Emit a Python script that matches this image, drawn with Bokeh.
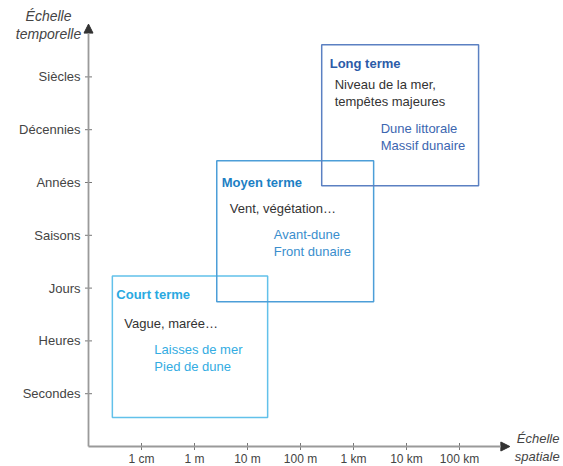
import math
from bokeh.plotting import figure
from bokeh.models import Range1d, Arrow, NormalHead, ColumnDataSource
from bokeh.core.properties import value
from bokeh.embed import file_html
from bokeh.resources import INLINE

# ---- data ----
x_labels = ["1 cm", "1 m", "10 m", "100 m", "1 km", "10 km", "100 km"]
y_labels = ["Secondes", "Heures", "Jours", "Saisons", "Années", "Décennies", "Siècles"]
x_ticks = list(range(len(x_labels)))
y_ticks = list(range(len(y_labels)))

box_names = ["Court terme", "Moyen terme", "Long terme"]
box_x0 = [-0.55, 1.42, 3.40]
box_x1 = [2.38, 4.38, 6.36]
box_y0 = [-0.45, 1.74, 3.94]
box_y1 = [2.23, 4.41, 6.61]
box_drivers = [["Vague, marée…"], ["Vent, végétation…"], ["Niveau de la mer,", "tempêtes majeures"]]
box_forms = [["Laisses de mer", "Pied de dune"], ["Avant-dune", "Front dunaire"], ["Dune littorale", "Massif dunaire"]]

axis_origin = (-1, -1)
x_axis_end = 6.95
y_axis_end = 7.0

# ---- style ----
FONT = "Liberation Sans"
TXT = "13px"
border_cols = ["#62c1ea", "#4c9ed8", "#5b80c2"]
title_cols = ["#2aa9e1", "#1c80c4", "#2c5ba8"]
form_cols = ["#33ace2", "#3a8ecd", "#3c66b0"]
title_off = [(4, 19), (5, 22), (8, 19)]
driver_off = [(12, 48), (13, 48), (13, 40)]
form_off = [(42, 74), (57, 74), (59, 84)]
line_gap = 17

W, H = 563, 466
SX, SY = 53.0, 52.8          # px per unit
ox_px, oy_px = 88, 446       # pixel position of the axis origin
xs = axis_origin[0] - ox_px / SX
xe = axis_origin[0] + (W - ox_px) / SX
ys = axis_origin[1] - (H - oy_px) / SY
ye = axis_origin[1] + oy_px / SY

p = figure(width=W, height=H, output_backend="svg", toolbar_location=None,
           x_range=Range1d(xs, xe), y_range=Range1d(ys, ye),
           min_border=0, x_axis_type=None, y_axis_type=None)
p.outline_line_color = None
p.grid.visible = False
p.background_fill_color = "white"
p.border_fill_color = "white"

ax0, ay0 = axis_origin

# axis arrows
p.add_layout(Arrow(end=NormalHead(size=9, fill_color="#333333", line_color="#333333"),
                   x_start=ax0, y_start=ay0, x_end=x_axis_end, y_end=ay0,
                   line_color="#9a9a9a", line_width=1.8))
p.add_layout(Arrow(end=NormalHead(size=9, fill_color="#333333", line_color="#333333"),
                   x_start=ax0, y_start=ay0, x_end=ax0, y_end=y_axis_end,
                   line_color="#9a9a9a", line_width=1.8))

# ticks
p.scatter(x=x_ticks, y=[ay0] * len(x_ticks), marker="dash", angle=math.pi / 2, size=7,
          line_color="#777777", line_width=1)
p.scatter(x=[ax0] * len(y_ticks), y=y_ticks, marker="dash", size=7,
          line_color="#777777", line_width=1)

# tick labels
p.text(x=x_ticks, y=[ay0] * len(x_ticks), text=x_labels, y_offset=12,
       text_font=value(FONT), text_font_size="12px", text_color="#444444",
       text_align="center", text_baseline="middle")
p.text(x=[ax0] * len(y_ticks), y=y_ticks, text=y_labels, x_offset=-8,
       text_font=value(FONT), text_font_size="13px", text_color="#444444",
       text_align="right", text_baseline="middle")

# axis titles
it = dict(text_font=value(FONT), text_font_style="italic",
          text_color="#444444", text_baseline="middle")
p.text(x=[ax0, ax0], y=[y_axis_end, y_axis_end], text=["Échelle", "temporelle"],
       x_offset=-40, y_offset=[-8, 10], text_align="center", text_font_size="14px", **it)
p.text(x=[x_axis_end, x_axis_end], y=[ay0, ay0], text=["Échelle", "spatiale"],
       x_offset=[7, 5], y_offset=[-8, 10], text_align="left", text_font_size="13px", **it)

# boxes
src = ColumnDataSource(dict(left=box_x0, right=box_x1, bottom=box_y0, top=box_y1, col=border_cols))
p.quad(left="left", right="right", bottom="bottom", top="top", source=src,
       fill_color=None, line_color="col", line_width=1.5)

# texts in boxes
for i in range(3):
    tx, ty = box_x0[i], box_y1[i]
    p.text(x=[tx], y=[ty], text=[box_names[i]], x_offset=title_off[i][0], y_offset=title_off[i][1],
           text_font=value(FONT), text_font_style="bold", text_font_size=TXT,
           text_color=title_cols[i], text_baseline="middle", text_align="left")
    for j, t in enumerate(box_drivers[i]):
        p.text(x=[tx], y=[ty], text=[t], x_offset=driver_off[i][0], y_offset=driver_off[i][1] + j * line_gap,
               text_font=value(FONT), text_font_size=TXT,
               text_color="#333333", text_baseline="middle", text_align="left")
    for j, t in enumerate(box_forms[i]):
        p.text(x=[tx], y=[ty], text=[t], x_offset=form_off[i][0], y_offset=form_off[i][1] + j * line_gap,
               text_font=value(FONT), text_font_size=TXT,
               text_color=form_cols[i], text_baseline="middle", text_align="left")

open("out.html", "w").write(file_html(p, INLINE))
